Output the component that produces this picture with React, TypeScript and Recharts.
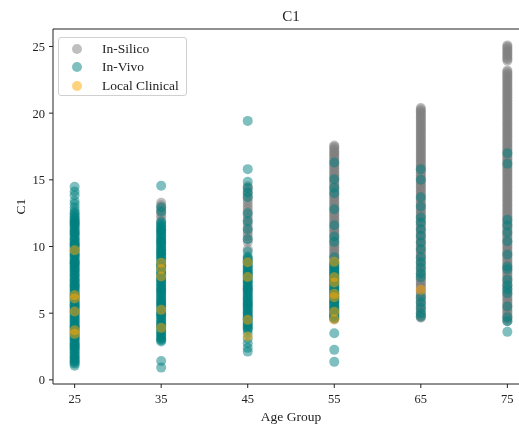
import React from 'react';
import { ScatterChart, Scatter, XAxis, YAxis, ReferenceLine } from 'recharts';

const FONT = '"Liberation Serif", "Times New Roman", serif';

const ageGroups = [25, 35, 45, 55, 65, 75];
const yTicks = [0, 5, 10, 15, 20, 25];
const X_DOMAIN: [number, number] = [22.5, 77.5];
const Y_DOMAIN: [number, number] = [-0.31, 26.31];

// In-Silico values per age group
const inSilico25 = [11.8, 10.2, 8.7, 7.1, 5.6, 4.0, 2.6];
const inSilico35 = [13.28, 13.1, 12.92, 12.74, 12.56, 12.38, 12.2, 11.9, 11.2, 10.4, 9.5, 8.6, 7.6, 6.7, 5.8, 4.9, 4.0];
const inSilico45 = [14.52, 14.33, 14.12, 13.92, 13.7, 13.48, 13.27, 13.04, 12.82, 12.6, 12.37, 12.14, 11.92, 11.7, 11.47, 11.24, 11.02, 10.8, 10.57, 10.34, 9.8, 8.9, 7.9, 6.8, 5.7, 4.6];
const inSilico55 = [17.58, 17.36, 17.12, 16.94, 16.71, 16.48, 16.22, 16.01, 15.77, 15.52, 15.3, 15.08, 14.83, 14.61, 14.37, 14.15, 13.9, 13.68, 13.44, 13.2, 12.97, 12.73, 12.5, 12.28, 12.03, 11.81, 11.56, 11.34, 11.1, 10.87, 10.63, 10.4, 10.17, 9.93, 9.7, 9.46, 9.23, 9.0, 8.76, 8.53, 8.29, 8.05, 7.82, 7.58, 7.35, 7.11, 6.88, 6.64, 6.4, 6.17, 5.93, 5.7, 5.46, 5.22, 4.98, 4.75, 4.52];
const inSilico55b = [17.47, 17.24, 17.02, 16.83, 16.6, 16.35, 16.11, 15.89, 15.64, 15.41, 15.19, 14.95, 14.72, 14.49, 14.26, 14.03, 13.79, 13.56, 13.32, 13.08, 12.85, 12.62, 12.39, 12.16, 11.92, 11.69, 11.45, 11.22, 10.98, 10.75, 10.52, 10.28, 10.05, 9.82, 9.58, 9.35, 9.11, 8.88, 8.65, 8.41, 8.17, 7.94, 7.7, 7.47, 7.23, 7.0, 6.76, 6.52, 6.29, 6.05, 5.82, 5.58, 5.34, 5.1, 4.87, 4.63];
const inSilico65 = [20.38, 20.15, 19.93, 19.7, 19.46, 19.22, 18.98, 18.75, 18.52, 18.27, 18.04, 17.8, 17.57, 17.33, 17.09, 16.86, 16.62, 16.39, 16.15, 15.91, 15.68, 15.44, 15.2, 14.97, 14.73, 14.5, 14.26, 14.02, 13.79, 13.55, 13.31, 13.08, 12.84, 12.6, 12.37, 12.13, 11.9, 11.66, 11.42, 11.19, 10.95, 10.71, 10.48, 10.24, 10.0, 9.77, 9.53, 9.3, 9.06, 8.82, 8.59, 8.35, 8.11, 7.88, 7.64, 7.4, 7.17, 6.93, 6.7, 6.46, 6.22, 5.99, 5.75, 5.51, 5.28, 5.04, 4.81, 4.66];
const inSilico65b = [20.27, 20.04, 19.81, 19.58, 19.34, 19.1, 18.87, 18.63, 18.4, 18.16, 17.92, 17.69, 17.45, 17.21, 16.97, 16.74, 16.5, 16.27, 16.03, 15.8, 15.56, 15.32, 15.09, 14.85, 14.62, 14.38, 14.14, 13.9, 13.67, 13.43, 13.2, 12.96, 12.72, 12.49, 12.25, 12.01, 11.78, 11.54, 11.3, 11.07, 10.83, 10.6, 10.36, 10.12, 9.89, 9.65, 9.41, 9.18, 8.94, 8.7, 8.47, 8.23, 8.0, 7.76, 7.52, 7.29, 7.05, 6.81, 6.58, 6.34, 6.1, 5.87, 5.63, 5.4, 5.16, 4.93, 4.72];
const inSilico75 = [25.08, 24.86, 24.63, 24.4, 24.16, 23.93, 23.2, 22.97, 22.73, 22.5, 22.26, 22.03, 21.79, 21.56, 21.32, 21.09, 20.85, 20.62, 20.38, 20.15, 19.91, 19.68, 19.44, 19.21, 18.97, 18.74, 18.5, 18.27, 18.03, 17.8, 17.56, 17.33, 17.09, 16.86, 16.62, 16.39, 16.15, 15.92, 15.68, 15.45, 15.21, 14.98, 14.74, 14.51, 14.27, 14.04, 13.8, 13.57, 13.33, 13.1, 12.86, 12.63, 12.39, 12.16, 11.92, 11.69, 11.45, 11.22, 10.98, 10.75, 10.51, 10.28, 10.04, 9.81, 9.57, 9.34, 9.1, 8.87, 8.63, 8.4, 8.16, 7.93, 7.69, 7.46, 7.22, 6.99, 6.75, 6.52, 6.28, 6.05, 5.81, 5.58, 5.34, 5.11, 4.87, 4.64, 4.4];
const inSilico75b = [24.97, 24.74, 24.51, 24.28, 24.05, 23.08, 22.85, 22.62, 22.38, 22.14, 21.91, 21.67, 21.44, 21.2, 20.97, 20.73, 20.5, 20.26, 20.03, 19.79, 19.56, 19.32, 19.09, 18.85, 18.62, 18.38, 18.15, 17.91, 17.68, 17.44, 17.21, 16.97, 16.74, 16.5, 16.27, 16.03, 15.8, 15.56, 15.33, 15.09, 14.86, 14.62, 14.39, 14.15, 13.92, 13.68, 13.45, 13.21, 12.98, 12.74, 12.51, 12.27, 12.04, 11.8, 11.57, 11.33, 11.1, 10.86, 10.63, 10.39, 10.16, 9.92, 9.69, 9.45, 9.22, 8.98, 8.75, 8.51, 8.28, 8.04, 7.81, 7.57, 7.34, 7.1, 6.87, 6.63, 6.4, 6.16, 5.93, 5.69, 5.46, 5.22, 4.99, 4.75, 4.52];

// In-Vivo values per age group
const inVivo25 = [14.48, 14.12, 13.85, 13.41, 13.18, 12.93, 12.66, 12.52, 12.27, 12.04, 11.86, 11.63, 11.47, 11.21, 11.02, 10.88, 10.61, 10.43, 10.19, 10.05, 9.82, 9.64, 9.41, 9.27, 9.03, 8.86, 8.72, 8.49, 8.31, 8.15, 7.94, 7.77, 7.52, 7.38, 7.16, 6.97, 6.81, 6.58, 6.42, 6.23, 6.07, 5.86, 5.69, 5.48, 5.31, 5.12, 4.96, 4.74, 4.57, 4.39, 4.21, 4.02, 3.84, 3.66, 3.47, 3.28, 3.11, 2.93, 2.72, 2.54, 2.36, 2.18, 1.97, 1.76, 1.58, 1.39, 1.22, 1.06];
const inVivo25b = [12.41, 12.15, 11.95, 11.74, 11.55, 11.33, 11.12, 10.95, 10.74, 10.52, 10.31, 10.12, 9.93, 9.73, 9.52, 9.34, 9.15, 8.95, 8.79, 8.6, 8.4, 8.23, 8.04, 7.85, 7.64, 7.45, 7.27, 7.06, 6.89, 6.7, 6.5, 6.32, 6.15, 5.96, 5.77, 5.58, 5.4, 5.21, 5.04, 4.85, 4.66, 4.48, 4.3, 4.11, 3.93, 3.75, 3.56, 3.37, 3.2, 3.02, 2.82, 2.63, 2.45, 2.27, 2.07, 1.86, 1.67, 1.48, 1.3];
const inVivo35 = [14.55, 12.95, 12.62, 11.85, 11.6, 11.42, 11.18, 10.97, 10.76, 10.55, 10.31, 10.12, 9.9, 9.71, 9.49, 9.28, 9.1, 8.87, 8.66, 8.45, 8.24, 8.03, 7.82, 7.6, 7.41, 7.2, 6.98, 6.79, 6.57, 6.36, 6.15, 5.94, 5.73, 5.52, 5.31, 5.1, 4.88, 4.67, 4.46, 4.25, 4.04, 3.83, 3.62, 3.41, 3.22, 3.05, 2.88, 1.42, 0.92];
const inVivo35b = [11.72, 11.5, 11.3, 11.08, 10.87, 10.66, 10.43, 10.22, 10.01, 9.8, 9.6, 9.38, 9.19, 8.98, 8.76, 8.55, 8.34, 8.13, 7.92, 7.71, 7.5, 7.3, 7.09, 6.88, 6.68, 6.46, 6.25, 6.04, 5.83, 5.62, 5.41, 5.2, 4.99, 4.78, 4.56, 4.35, 4.14, 3.93, 3.72, 3.51, 3.32, 3.13, 2.97];
const inVivo45 = [19.42, 15.8, 14.85, 14.4, 14.05, 13.72, 12.5, 11.9, 11.3, 10.55, 9.6, 9.25, 9.02, 8.8, 8.58, 8.36, 8.15, 7.93, 7.72, 7.5, 7.3, 7.08, 6.87, 6.66, 6.44, 6.23, 6.02, 5.81, 5.6, 5.39, 5.18, 4.97, 4.76, 4.55, 4.34, 4.13, 3.92, 3.75, 3.48, 3.1, 2.75, 2.4, 2.12];
const inVivo45b = [9.13, 8.91, 8.69, 8.47, 8.26, 8.04, 7.83, 7.61, 7.4, 7.19, 6.97, 6.76, 6.55, 6.33, 6.12, 5.91, 5.7, 5.49, 5.28, 5.07, 4.86, 4.65, 4.44, 4.23, 4.02, 3.83];
const inVivo55 = [16.3, 15.05, 14.4, 14.0, 12.8, 11.6, 10.75, 10.35, 9.2, 8.8, 8.55, 8.3, 8.05, 7.8, 7.55, 7.3, 7.05, 6.8, 6.55, 6.3, 6.05, 5.8, 5.55, 5.3, 5.05, 4.8, 4.6, 3.5, 2.25, 1.35];
const inVivo55b = [8.68, 8.42, 8.18, 7.92, 7.68, 7.42, 7.18, 6.92, 6.68, 6.42, 6.18, 5.92, 5.68, 5.42, 5.18, 4.92, 4.7];
const inVivo65 = [15.8, 15.0, 13.7, 13.0, 12.2, 11.8, 11.3, 10.8, 10.3, 9.8, 9.2, 8.8, 8.4, 8.0, 7.7, 6.2, 5.8, 5.4, 5.0, 4.75];
const inVivo75 = [17.0, 16.2, 12.0, 11.6, 11.05, 10.4, 9.4, 8.5, 8.3, 7.5, 7.1, 6.8, 6.5, 5.5, 4.7, 4.4, 3.6];

// Local Clinical values per age group
const local25 = [9.72, 6.35, 6.1, 5.12, 3.72, 3.45];
const local35 = [8.78, 8.32, 7.75, 5.25, 3.9];
const local45 = [8.82, 7.72, 4.5, 3.25];
const local55 = [8.85, 7.7, 7.3, 6.45, 6.2, 5.1, 4.55];
const local65 = [6.75];
const local75: number[] = [];

const seriesNames = ['In-Silico', 'In-Vivo', 'Local Clinical'];
const seriesColors = ['#808080', '#008080', '#FFA500'];

const toPoints = (groups: number[][]) =>
  ageGroups.flatMap((age, i) => groups[i].map((v) => ({ x: age, y: v })));

const inSilicoData = toPoints([
  inSilico25,
  inSilico35,
  inSilico45,
  [...inSilico55, ...inSilico55b],
  [...inSilico65, ...inSilico65b],
  [...inSilico75, ...inSilico75b],
]);
const inVivoData = toPoints([
  [...inVivo25, ...inVivo25b],
  [...inVivo35, ...inVivo35b],
  [...inVivo45, ...inVivo45b],
  [...inVivo55, ...inVivo55b],
  inVivo65,
  inVivo75,
]);
const localData = toPoints([local25, local35, local45, local55, local65, local75]);
const allSeries = [inSilicoData, inVivoData, localData];

const makeDot = (color: string) => (props: any) =>
  props.cx == null ? <g /> : <circle cx={props.cx} cy={props.cy} r={5} fill={color} fillOpacity={0.5} />;

const AXIS = '#222';

export default function App() {
  return (
    <div style={{ position: 'fixed', top: 8, left: 8, width: 511, height: 419, overflow: 'hidden', fontFamily: FONT }}>
      <ScatterChart width={540} height={419} margin={{ top: 21, right: 19, bottom: 0, left: 0 }}>
        <XAxis
          type="number"
          dataKey="x"
          domain={X_DOMAIN}
          ticks={ageGroups}
          allowDataOverflow
          height={43}
          tickSize={4}
          tickMargin={6}
          tick={{ fill: AXIS, fontSize: 12.5, fontFamily: FONT }}
          tickLine={{ stroke: AXIS }}
          axisLine={{ stroke: AXIS }}
          label={(p: any) => {
            const vb = p.viewBox;
            return (
              <text x={vb.x + vb.width / 2} y={vb.y + 37} textAnchor="middle" fill={AXIS} fontSize={13.5} fontFamily={FONT}>
                Age Group
              </text>
            );
          }}
        />
        <YAxis
          type="number"
          dataKey="y"
          domain={Y_DOMAIN}
          ticks={yTicks}
          allowDataOverflow
          width={45}
          tickSize={4}
          tickMargin={4}
          tick={{ fill: AXIS, fontSize: 12.5, fontFamily: FONT }}
          tickLine={{ stroke: AXIS }}
          axisLine={{ stroke: AXIS }}
          label={(p: any) => {
            const vb = p.viewBox;
            const cx = vb.x + 12;
            const cy = vb.y + vb.height / 2;
            return (
              <text x={cx} y={cy} transform={`rotate(-90 ${cx} ${cy})`} textAnchor="middle" dominantBaseline="central" fill={AXIS} fontSize={13.5} fontFamily={FONT}>
                C1
              </text>
            );
          }}
        />
        <ReferenceLine y={Y_DOMAIN[1]} stroke={AXIS} />
        <ReferenceLine x={X_DOMAIN[1]} stroke={AXIS} />
        {allSeries.map((data, i) => (
          <Scatter
            key={seriesNames[i]}
            name={seriesNames[i]}
            data={data}
            isAnimationActive={false}
            shape={makeDot(seriesColors[i])}
          />
        ))}
      </ScatterChart>
      <div
        style={{
          position: 'absolute',
          top: 1,
          left: 0,
          width: 566,
          textAlign: 'center',
          fontSize: 15,
          lineHeight: 1,
          color: AXIS,
        }}
      >
        C1
      </div>
      <div
        style={{
          position: 'absolute',
          left: 50,
          top: 29,
          width: 127,
          height: 57,
          border: '1px solid #d0d0d0',
          borderRadius: 3,
          background: 'rgba(255,255,255,0.8)',
        }}
      >
        {seriesNames.map((name, i) => (
          <div key={name} style={{ position: 'absolute', left: 0, top: 2 + i * 18.3, height: 18, width: 127 }}>
            <div
              style={{
                position: 'absolute',
                left: 13,
                top: 4,
                width: 10,
                height: 10,
                borderRadius: 5,
                background: seriesColors[i],
                opacity: 0.5,
              }}
            />
            <div style={{ position: 'absolute', left: 43, top: 2, fontSize: 13.5, lineHeight: '14px', color: AXIS, whiteSpace: 'nowrap' }}>
              {name}
            </div>
          </div>
        ))}
      </div>
    </div>
  );
}
